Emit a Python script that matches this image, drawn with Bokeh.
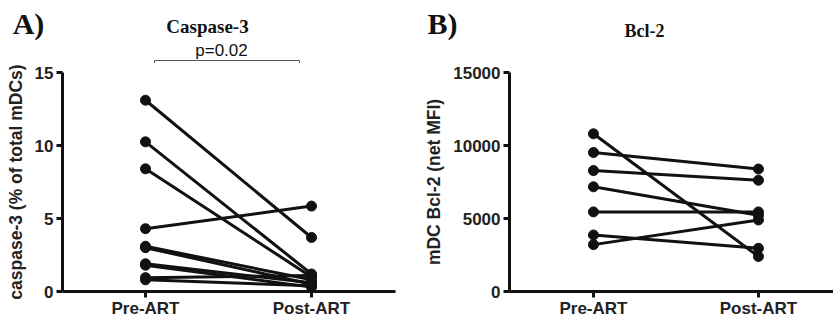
from bokeh.plotting import figure
from bokeh.layouts import row, column
from bokeh.models import Label, FixedTicker, ColumnDataSource, Range1d
from bokeh.embed import file_html
from bokeh.resources import INLINE

groups = ["Pre-ART", "Post-ART"]
casp_pre = [13.1, 10.25, 8.4, 4.3, 3.1, 3.0, 1.9, 1.8, 0.95, 0.8]
casp_post = [3.7, 1.2, 1.0, 5.85, 0.8, 0.5, 0.6, 0.3, 1.1, 0.4]
bcl_pre = [10800, 9520, 8280, 7170, 5450, 3870, 3210]
bcl_post = [2400, 8390, 7620, 5225, 5450, 2960, 4900]
casp_ticks = [0, 5, 10, 15]
bcl_ticks = [0, 5000, 10000, 15000]

SANS = "Liberation Sans"
SERIF = "Liberation Serif"
INK = "#111111"
HEAD = 63
H = 320 - HEAD


def no_align(fig):
    try:
        fig.frame_align = False
    except Exception:
        pass


def panel(width, xr, yr, left, right, pre, post, ticks, ylabel, ylsize):
    p = figure(width=width, height=H, x_range=Range1d(*xr), y_range=Range1d(*yr),
               output_backend="svg", toolbar_location=None,
               min_border_left=left, min_border_right=right,
               min_border_top=72 - HEAD, min_border_bottom=27)
    no_align(p)
    p.outline_line_color = None
    p.grid.visible = False
    p.background_fill_color = "white"
    p.border_fill_color = "white"
    for ax in (p.xaxis, p.yaxis):
        ax.axis_line_width = 3
        ax.axis_line_color = INK
        ax.major_tick_line_width = 3
        ax.major_tick_line_color = INK
        ax.major_tick_out = 6
        ax.major_tick_in = 0
        ax.minor_tick_line_color = None
        ax.major_label_text_font = SANS
        ax.major_label_text_font_style = "bold"
        ax.major_label_text_font_size = "17px"
        ax.major_label_text_color = "#222222"
    p.xaxis.ticker = FixedTicker(ticks=list(range(len(groups))))
    p.xaxis.major_label_overrides = {i: g for i, g in enumerate(groups)}
    p.xaxis.major_label_standoff = 1
    p.yaxis.ticker = FixedTicker(ticks=ticks)
    p.yaxis.major_label_standoff = 3
    p.yaxis.axis_label = ylabel
    p.yaxis.axis_label_text_font = SANS
    p.yaxis.axis_label_text_font_style = "bold"
    p.yaxis.axis_label_text_font_size = ylsize
    p.yaxis.axis_label_text_color = "#222222"
    p.yaxis.axis_label_standoff = 6

    n = len(pre)
    src = ColumnDataSource(dict(
        x0=[groups.index("Pre-ART")] * n, y0=pre,
        x1=[groups.index("Post-ART")] * n, y1=post))
    p.segment(x0="x0", y0="y0", x1="x1", y1="y1", source=src,
              line_width=3, line_color=INK)
    p.scatter(x="x0", y="y0", source=src, size=10, color=INK)
    p.scatter(x="x1", y="y1", source=src, size=10, color=INK)
    return p


def header(width):
    # pixel-coordinate header strip (y measured from the top)
    h = figure(width=width, height=HEAD, x_range=Range1d(0, width),
               y_range=Range1d(HEAD, 0), output_backend="svg",
               toolbar_location=None, x_axis_type=None, y_axis_type=None,
               min_border=0)
    no_align(h)
    h.outline_line_color = None
    h.grid.visible = False
    return h


def lab(p, x, y, text, font, size, style="bold"):
    p.add_layout(Label(x=x, y=y, text=text, text_font=font, text_font_size=size,
                       text_font_style=style, text_color=INK,
                       text_align="center", text_baseline="middle"))


h1 = header(420)
lab(h1, 28, 23, "A)", SERIF, "30px")
lab(h1, 207, 26, "Caspase-3", SERIF, "19px")
lab(h1, 221, 50, "p=0.02", SANS, "17px", "normal")
h1.line(x=[154, 154, 299, 299], y=[HEAD, 60, 60, HEAD], line_width=1,
        line_color="#555555")

p1 = panel(420, (-0.5, 1.506), (0, 15), 62, 25, casp_pre, casp_post, casp_ticks,
           "caspase-3 (% of total mDCs)", "17.5px")

h2 = header(413)
lab(h2, 22, 23, "B)", SERIF, "30px")
lab(h2, 224, 30, "Bcl-2", SERIF, "18px")

p2 = panel(413, (-0.509, 1.455), (0, 15000), 89, 0, bcl_pre, bcl_post, bcl_ticks,
           "mDC Bcl-2 (net MFI)", "17.5px")

layout = row(column(h1, p1, spacing=0), column(h2, p2, spacing=0), spacing=0)
open("out.html", "w").write(file_html(layout, INLINE))
